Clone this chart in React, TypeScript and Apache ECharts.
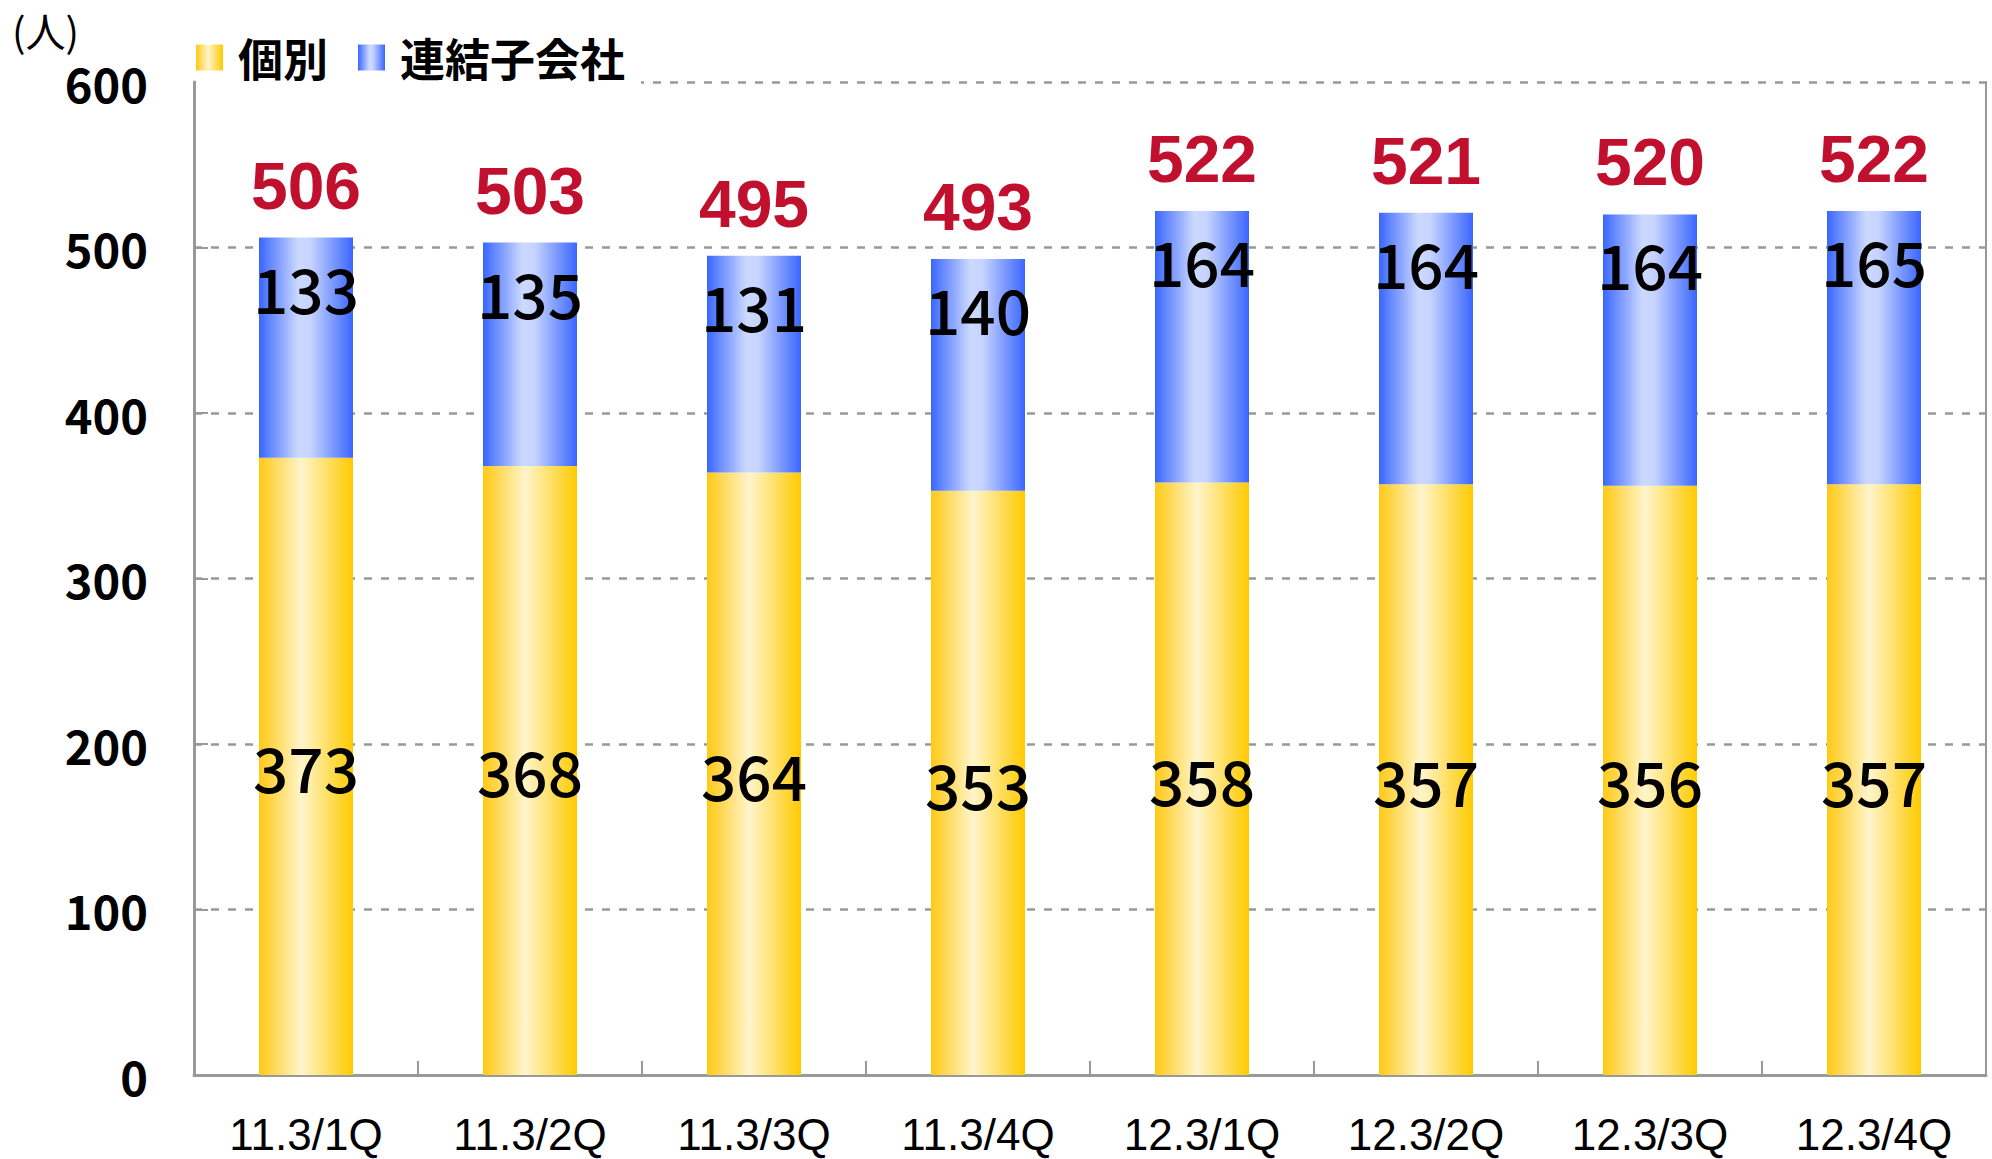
import React, { useEffect, useRef } from "react";
import * as echarts from "echarts";

const categories = ["11.3/1Q", "11.3/2Q", "11.3/3Q", "11.3/4Q", "12.3/1Q", "12.3/2Q", "12.3/3Q", "12.3/4Q"];
const kobetsu = [373, 368, 364, 353, 358, 357, 356, 357];
const renketsu = [133, 135, 131, 140, 164, 164, 164, 165];
const totals = [506, 503, 495, 493, 522, 521, 520, 522];
const totalBase = [0, 0, 0, 0, 0, 0, 0, 0];
const seriesNames = ["個別", "連結子会社"];
const unitLabel = "(人)";

const CJK = "'Noto Sans CJK JP', 'Noto Sans', sans-serif";
const LATIN = "'Liberation Sans', Arial, sans-serif";

const yellowGrad = new echarts.graphic.LinearGradient(0, 0, 1, 0, [
  { offset: 0, color: "#FFC915" },
  { offset: 0.45, color: "#FFF5CC" },
  { offset: 1, color: "#FFCA00" },
]);
const blueGrad = new echarts.graphic.LinearGradient(0, 0, 1, 0, [
  { offset: 0, color: "#3A66FF" },
  { offset: 0.42, color: "#CCD9FF" },
  { offset: 0.55, color: "#C6D3FF" },
  { offset: 1, color: "#3A66FF" },
]);

export default function App() {
  const ref = useRef<HTMLDivElement>(null);
  useEffect(() => {
    if (!ref.current) return;
    const chart = echarts.init(ref.current, undefined, { renderer: "svg" });
    chart.setOption({
      animation: false,
      backgroundColor: "#fff",
      textStyle: { fontFamily: CJK },
      grid: { left: 194, right: 6, top: 82, bottom: 84, containLabel: false },
      legend: {
        data: seriesNames,
        left: 196,
        top: 30,
        icon: "rect",
        itemWidth: 27,
        itemHeight: 26,
        itemGap: 30,
        padding: [5, 16, 10, 0],
        backgroundColor: "#fff",
        textStyle: { fontFamily: CJK, fontSize: 45, fontWeight: "bold", color: "#000", padding: [0, 0, 0, 10] },
      },
      graphic: [
        {
          type: "text",
          left: 12,
          top: 10,
          style: { text: unitLabel, font: `40px ${CJK}`, lineHeight: 40, fill: "#000" },
        },
      ],
      xAxis: {
        type: "category",
        data: categories,
        axisLine: { show: true, lineStyle: { color: "#999", width: 3 } },
        axisTick: { show: true, inside: true, length: 14, lineStyle: { color: "#999", width: 2 } },
        axisLabel: { margin: 37, fontSize: 44, lineHeight: 44, color: "#000", fontFamily: LATIN },
      },
      yAxis: [
        {
          type: "value",
          min: 0,
          max: 600,
          interval: 100,
          axisLine: { show: true, lineStyle: { color: "#999", width: 3 } },
          axisTick: { show: true, inside: true, length: 14, lineStyle: { color: "#999", width: 2 } },
          axisLabel: { margin: 46, fontSize: 47, fontWeight: "bold", color: "#000", fontFamily: CJK },
          splitLine: { show: true, lineStyle: { color: "#999", width: 2.5, type: [8, 9] } },
        },
        {
          type: "value",
          min: 0,
          max: 600,
          interval: 100,
          position: "right",
          axisLine: { show: true, lineStyle: { color: "#999", width: 2 } },
          axisTick: { show: false },
          axisLabel: { show: false },
          splitLine: { show: false },
        },
      ],
      series: [
        {
          name: seriesNames[0],
          type: "bar",
          stack: "a",
          barWidth: 94,
          data: kobetsu,
          itemStyle: { color: yellowGrad },
          label: {
            show: true,
            position: "inside",
            fontSize: 62,
            fontWeight: 500,
            color: "#000",
            fontFamily: CJK,
          },
        },
        {
          name: seriesNames[1],
          type: "bar",
          stack: "a",
          barWidth: 94,
          data: renketsu,
          itemStyle: { color: blueGrad },
          label: {
            show: true,
            position: "insideTop",
            distance: 18,
            fontSize: 62,
            fontWeight: 500,
            color: "#000",
            fontFamily: CJK,
          },
        },
        {
          name: "total",
          type: "bar",
          stack: "a",
          barWidth: 94,
          data: totalBase,
          itemStyle: { color: "transparent" },
          label: {
            show: true,
            position: "top",
            distance: 19,
            fontSize: 66,
            fontWeight: "bold",
            color: "#C0102E",
            fontFamily: LATIN,
            formatter: (p: any) => String(totals[p.dataIndex]),
          },
        },
      ],
    });
    return () => chart.dispose();
  }, []);
  return (
    <div
      ref={ref}
      style={{ position: "fixed", left: 0, top: 0, width: 1992, height: 1159 }}
    />
  );
}
